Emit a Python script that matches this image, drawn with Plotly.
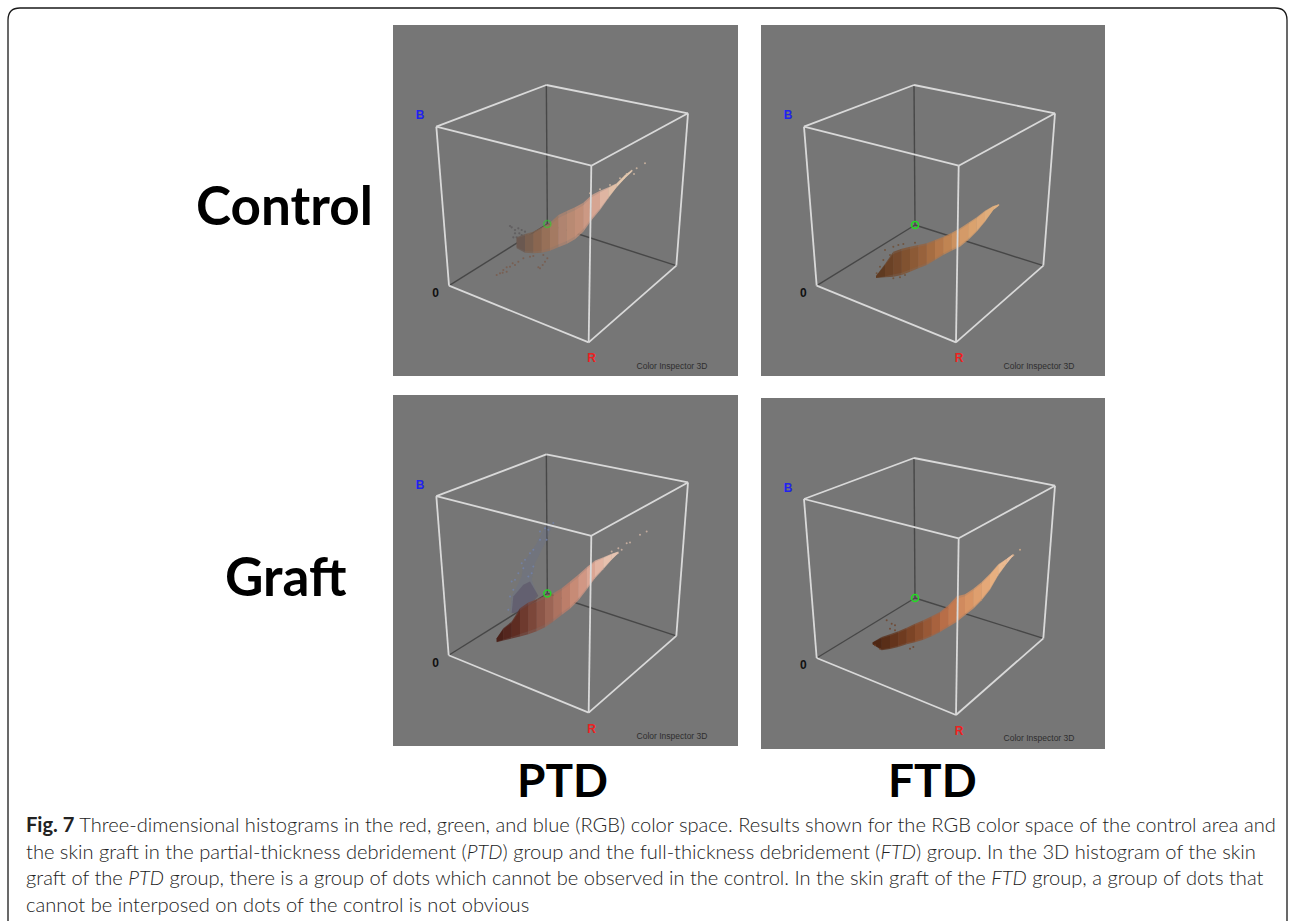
import plotly.graph_objects as go

W, H = 1295, 921

# ---- panels ----
panel_names = ["Control PTD", "Control FTD", "Graft PTD", "Graft FTD"]
panel_left = [393, 761, 393, 761]
panel_right = [738, 1105, 738, 1105]
panel_top = [25, 25, 395, 398]
panel_bottom = [376, 376, 746, 749]
range_x0 = [0, 3, 0, 3]
range_x1 = [1035, 1035, 1035, 1035]
range_y0 = [1068, 1068, 1062, 1070]
range_y1 = [15, 15, 10, 17]

# ---- cube corners per panel ----
back_top = [(460, 195), (462, 195), (460, 188), (462, 197)]
top_left = [(130, 320), (132, 320), (130, 313), (132, 320)]
top_right = [(885, 280), (885, 280), (885, 272), (885, 280)]
front_top = [(595, 437), (596, 437), (595, 432), (596, 438)]
origin = [(168, 797), (170, 797), (167, 790), (170, 797)]
front_bottom = [(587, 967), (588, 967), (587, 962), (588, 968)]
right_bottom = [(850, 737), (850, 737), (850, 732), (850, 738)]
green_corner = [(463, 612), (465, 615), (463, 605), (465, 617)]
green_opacity = [0.55, 1, 0.9, 1]

label_b = [(81, 288), (84, 289), (81, 282), (84, 289)]
label_0 = [(128, 822), (130, 822), (128, 815), (130, 822)]
label_r = [(596, 1018), (597, 1018), (596, 1013), (597, 1020)]
label_ci = [(837, 1040), (837, 1040), (837, 1034), (837, 1041)]

# ---- colour clouds: cross-sections along each cloud ----
cloud_origin = [(291, 390), (300, 510), (291, 354), (300, 444)]
cloud_x = [
    [80, 105, 130, 155, 180, 205, 230, 255, 280, 305, 330, 355, 380, 405, 425],
    [48, 75, 100, 125, 150, 175, 200, 225, 250, 275, 300, 325, 350, 375, 400, 415],
    [20, 40, 65, 90, 115, 140, 165, 190, 215, 240, 265, 290, 315, 340, 365, 385],
    [38, 65, 90, 115, 140, 165, 190, 215, 240, 265, 290, 315, 340, 365, 390, 415, 440, 458],
]
cloud_top = [
    [262, 252, 245, 232, 218, 195, 183, 172, 158, 135, 122, 112, 100, 75, 60],
    [258, 222, 185, 176, 170, 165, 160, 150, 140, 128, 115, 98, 82, 62, 48, 44],
    [385, 355, 335, 295, 278, 268, 258, 250, 235, 215, 195, 172, 152, 142, 132, 125],
    [306, 290, 282, 273, 262, 250, 240, 228, 215, 195, 168, 162, 145, 125, 100, 72, 55, 42],
]
cloud_bottom = [
    [295, 308, 310, 308, 302, 292, 282, 268, 245, 210, 180, 145, 112, 85, 66],
    [264, 262, 260, 255, 245, 235, 225, 210, 195, 182, 170, 150, 125, 95, 60, 48],
    [397, 392, 386, 380, 373, 364, 352, 335, 315, 297, 272, 240, 205, 178, 150, 130],
    [312, 330, 326, 320, 312, 306, 298, 288, 275, 260, 245, 225, 205, 180, 148, 105, 70, 48],
]
cloud_colors = [
    ["#6a5850", "#7a6050", "#8a6650", "#977058", "#a47a62", "#b08470", "#b98a73", "#c28f78", "#cc9984", "#d6a592",
     "#dfb5a2", "#e2c0a8", "#e4c8ae", "#e2c8b0"],
    ["#5f3a20", "#6b4226", "#75492c", "#815230", "#8c5a36", "#98623c", "#a66d42", "#b5784a", "#c08452", "#cc9260",
     "#d49a68", "#daa26e", "#dea876", "#e0ae7c", "#e2b282"],
    ["#4a2018", "#54261e", "#5e2c22", "#6e3a2e", "#7c473a", "#8c5648", "#9c6555", "#ac7260", "#bc7e6a", "#c78b76",
     "#d19784", "#dba694", "#e3b5a3", "#e7c1ae", "#e6c4b2"],
    ["#4e2714", "#592e18", "#64341c", "#6f3b20", "#7c4426", "#8a4e2e", "#985836", "#a8623e", "#b86e48", "#c47a50",
     "#d08a5e", "#d89464", "#df9f6e", "#e4a878", "#e8b080", "#ebba90", "#eac0a0"],
]

# ---- loose dots around clouds (same crop units as the cloud sections) ----
gray_dots_x = [65, 75, 85, 95, 88, 75, 80, 70, 95, 60, 105, 110]
gray_dots_y = [232, 240, 235, 240, 250, 250, 262, 262, 255, 228, 245, 255]
brown_dots_x = [20, 30, 40, 50, 60, 75, 85, 100, 120, 130, 150, 158, 165, 172, 160, 145, 68, 50, 38]
brown_dots_y = [375, 370, 360, 352, 350, 345, 335, 325, 320, 318, 355, 345, 335, 325, 315, 352, 340, 365, 368]
low_dots_x = [
    [],
    [75, 100, 115, 90, 70, 60, 50, 100, 120, 135, 130, 165],
    [],
    [80, 95, 105, 90, 105, 150, 160, 60, 45],
]
low_dots_y = [
    [],
    [180, 170, 165, 195, 210, 230, 250, 265, 262, 255, 162, 158],
    [],
    [240, 250, 255, 265, 270, 325, 320, 325, 315],
]
low_colors = ["#6f4a2e", "#6f4a2e", "#5a2c20", "#6e3f24"]
tail_dots_x = [
    [440, 465, 425, 432, 300, 330, 360, 390, 410],
    [415],
    [365, 385, 395, 410, 420, 450, 470, 383],
    [480, 460, 440, 430, 415, 410],
]
tail_dots_y = [
    [55, 40, 62, 72, 130, 118, 105, 85, 72],
    [45],
    [125, 115, 120, 100, 98, 75, 65, 130],
    [28, 45, 60, 75, 85, 105],
]
tail_colors = ["#dcc0a8", "#e2b282", "#dcbcaa", "#e3b58c"]

# ---- blue plume in the PTD graft ----
plume_x = [60, 65, 95, 100, 140, 165, 190, 170, 135, 125, 140, 110]
plume_y = [310, 260, 200, 160, 100, 50, 40, 90, 160, 210, 250, 300]
plume_core_x = [65, 70, 100, 120, 145, 105]
plume_core_y = [310, 260, 225, 215, 258, 305]
plume_dots_x = [190, 175, 165, 150, 175, 170, 150, 130, 120, 105, 95, 100, 85, 75, 65, 70, 60, 55, 130, 125, 115]
plume_dots_y = [40, 45, 55, 65, 60, 90, 90, 120, 130, 150, 160, 175, 190, 210, 215, 240, 260, 300, 170, 190, 200]

# ---- text ----
row_labels = ["Control", "Graft"]
row_label_pos = [(284, 204), (286, 575)]
col_labels = ["PTD", "FTD"]
col_label_pos = [(562, 779), (932, 779)]
caption_lines = [
    "<b>Fig. 7</b> Three-dimensional histograms in the red, green, and blue (RGB) color space. Results shown for the RGB color space of the control area and",
    "the skin graft in the partial-thickness debridement (<i>PTD</i>) group and the full-thickness debridement (<i>FTD</i>) group. In the 3D histogram of the skin",
    "graft of the <i>PTD</i> group, there is a group of dots which cannot be observed in the control. In the skin graft of the <i>FTD</i> group, a group of dots that",
    "cannot be interposed on dots of the control is not obvious",
]
caption_y = [824, 851, 877, 904]
frame_x = [8, 8, 20, 1275, 1287, 1287]
frame_y = [921, 20, 8, 8, 20, 921]

fig = go.Figure()


def ax(i):
    return dict(xaxis=f"x{i + 1}" if i else "x", yaxis=f"y{i + 1}" if i else "y")


def line(i, a, b, color, width):
    fig.add_trace(go.Scatter(x=[a[0], b[0]], y=[a[1], b[1]], mode="lines",
                             line=dict(color=color, width=width), hoverinfo="skip", **ax(i)))


def dots(i, xs, ys, color, size, opacity=1.0):
    ox, oy = cloud_origin[i]
    fig.add_trace(go.Scatter(x=[ox + v for v in xs], y=[oy + v for v in ys], mode="markers", opacity=opacity,
                             marker=dict(size=size, color=color, line_width=0), hoverinfo="skip", **ax(i)))


def polygon(i, xs, ys, color, opacity):
    ox, oy = cloud_origin[i]
    px = [ox + v for v in xs] + [ox + xs[0]]
    py = [oy + v for v in ys] + [oy + ys[0]]
    fig.add_trace(go.Scatter(x=px, y=py, mode="lines", fill="toself", fillcolor=color, opacity=opacity,
                             line=dict(width=0), hoverinfo="skip", **ax(i)))


for i in range(4):
    k = "" if i == 0 else str(i + 1)
    fig.update_layout({
        f"xaxis{k}": dict(domain=[panel_left[i] / W, panel_right[i] / W], range=[range_x0[i], range_x1[i]],
                          visible=False, anchor=f"y{k}"),
        f"yaxis{k}": dict(domain=[1 - panel_bottom[i] / H, 1 - panel_top[i] / H], range=[range_y0[i], range_y1[i]],
                          visible=False, anchor=f"x{k}"),
    })
    fig.add_shape(type="rect", xref=f"x{k} domain", yref=f"y{k} domain", x0=0, x1=1, y0=0, y1=1,
                  fillcolor="#767676", line_width=0, layer="below")

    g = green_corner[i]
    for corner in (back_top[i], origin[i], right_bottom[i]):
        line(i, g, corner, "#474747", 1.4)

    if i == 2:
        polygon(i, plume_x, plume_y, "#667090", 0.28)
        polygon(i, plume_core_x, plume_core_y, "#5a5468", 0.6)
        dots(i, plume_dots_x, plume_dots_y, "#7283ad", 2, 0.8)
    if i == 0:
        dots(i, brown_dots_x, brown_dots_y, "#7a5a4a", 2, 0.8)
        dots(i, gray_dots_x, gray_dots_y, "#5d5a5c", 2.2, 0.8)

    xs, tops, bots, cols = cloud_x[i], cloud_top[i], cloud_bottom[i], cloud_colors[i]
    # soft outer body, then a solid core
    for layer, trim, alpha in (("outer", 0.0, 0.78), ("core", 0.09, 1.0)):
        for j, c in enumerate(cols):
            t0 = tops[j] + trim * (bots[j] - tops[j])
            t1 = tops[j + 1] + trim * (bots[j + 1] - tops[j + 1])
            b0 = bots[j] - trim * (bots[j] - tops[j])
            b1 = bots[j + 1] - trim * (bots[j + 1] - tops[j + 1])
            polygon(i, [xs[j], xs[j + 1], xs[j + 1], xs[j]], [t0, t1, b1, b0], c, alpha)
    dots(i, low_dots_x[i], low_dots_y[i], low_colors[i], 2, 0.75)
    dots(i, tail_dots_x[i], tail_dots_y[i], tail_colors[i], 2, 0.75)

    fig.add_trace(go.Scatter(x=[g[0]], y=[g[1]], mode="markers", opacity=green_opacity[i],
                             marker=dict(size=7, color="rgba(0,0,0,0)", line=dict(color="#22dd22", width=1.6)),
                             hoverinfo="skip", **ax(i)))

    white = "#d9d9d9"
    for a, b in [(top_left[i], back_top[i]), (back_top[i], top_right[i]), (top_right[i], front_top[i]),
                 (front_top[i], top_left[i]), (top_left[i], origin[i]), (front_top[i], front_bottom[i]),
                 (top_right[i], right_bottom[i]), (origin[i], front_bottom[i]),
                 (front_bottom[i], right_bottom[i])]:
        line(i, a, b, white, 1.8)

    for pos, txt, col, size, bold in [(label_b[i], "B", "#2222ee", 12, True), (label_0[i], "0", "#111111", 12, True),
                                      (label_r[i], "R", "#ee2020", 12, True),
                                      (label_ci[i], "Color Inspector 3D", "#2e2e2e", 8.5, False)]:
        fig.add_trace(go.Scatter(x=[pos[0]], y=[pos[1]], mode="text",
                                 text=[f"<b>{txt}</b>" if bold else txt], textposition="middle center",
                                 textfont=dict(family="Liberation Sans", size=size, color=col),
                                 hoverinfo="skip", **ax(i)))


def label(x, y, text, size, family, color="#000000", anchor="center", weight=None):
    fig.add_annotation(xref="paper", yref="paper", x=x / W, y=1 - y / H, text=text, showarrow=False,
                       xanchor=anchor, yanchor="middle", xshift=0, borderpad=0,
                       font=dict(family=family, size=size, color=color, weight=weight))


for t, p in zip(row_labels, row_label_pos):
    label(p[0], p[1], f"<b>{t}</b>", 53, "Lato")
for t, p in zip(col_labels, col_label_pos):
    label(p[0], p[1], f"<b>{t}</b>", 46, "Lato")
for t, y in zip(caption_lines, caption_y):
    label(25, y, t, 20.1, "Lato", "#222222", "left", 300)

fig.add_shape(type="path", xref="paper", yref="paper",
              path=(f"M {frame_x[0] / W} {1 - frame_y[0] / H} L {frame_x[1] / W} {1 - frame_y[1] / H} "
                    f"Q {frame_x[1] / W} {1 - frame_y[3] / H} {frame_x[2] / W} {1 - frame_y[2] / H} "
                    f"L {frame_x[3] / W} {1 - frame_y[3] / H} "
                    f"Q {frame_x[4] / W} {1 - frame_y[3] / H} {frame_x[4] / W} {1 - frame_y[4] / H} "
                    f"L {frame_x[5] / W} {1 - frame_y[5] / H}"),
              line=dict(color="#1a1a1a", width=1.3))

fig.update_layout(width=W, height=H, margin=dict(l=0, r=0, t=0, b=0), showlegend=False,
                  paper_bgcolor="white", plot_bgcolor="white")
fig.write_html("out.html", config=dict(displayModeBar=False),
               post_script="document.body.style.margin='0';")
